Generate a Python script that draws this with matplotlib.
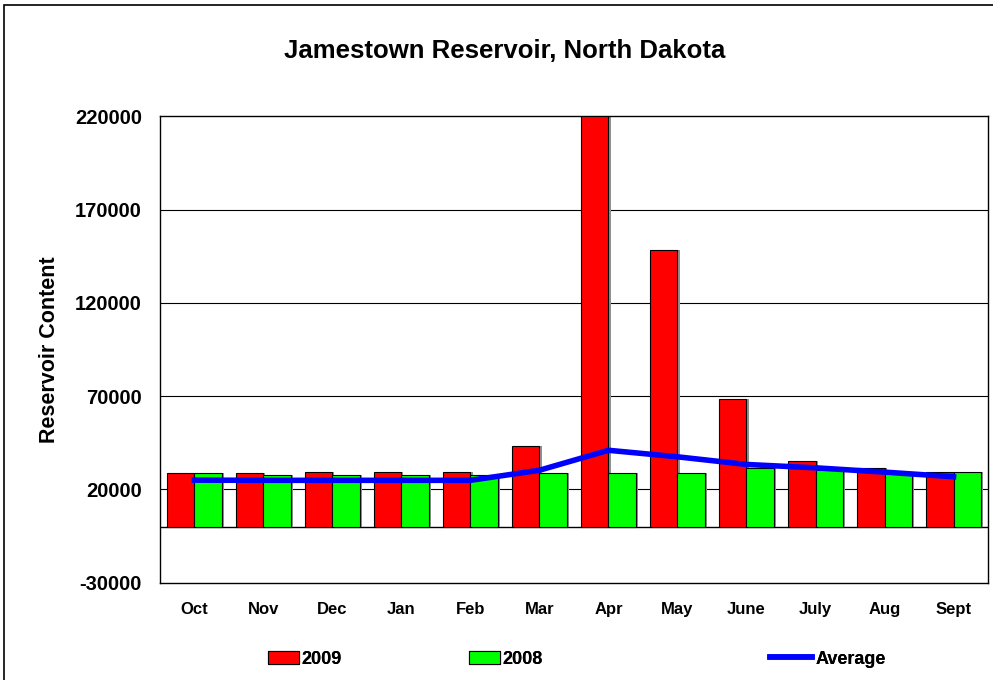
import numpy as np
import matplotlib
matplotlib.use("Agg")
from matplotlib import pyplot as plt
from matplotlib.patches import Rectangle

plt.rcParams['font.family'] = ['Liberation Sans', 'DejaVu Sans']
plt.rcParams['font.weight'] = 'bold'

months = ['Oct', 'Nov', 'Dec', 'Jan', 'Feb', 'Mar', 'Apr', 'May', 'June', 'July', 'Aug', 'Sept']
y2009 = [29000, 29000, 29300, 29300, 29600, 43200, 220000, 148600, 68600, 35200, 31600, 29500]
y2008 = [28700, 27700, 27900, 27900, 27900, 28900, 28900, 28950, 31600, 30300, 28600, 29200]
average = [25000, 24900, 24900, 24900, 24900, 30300, 41000, 37500, 33400, 31600, 29300, 26800]
yticks = [-30000, 20000, 70000, 120000, 170000, 220000]

fig = plt.figure(figsize=(9.93, 6.8), dpi=100)
ax = fig.add_axes([0.161, 0.143, 0.834, 0.686])

x = np.arange(len(months))
w = 0.4
# grey shadow behind each bar
ax.bar(x - w / 2 + 0.03, y2009, w, color='#909090', zorder=2)
ax.bar(x + w / 2 + 0.03, y2008, w, color='#909090', zorder=2)
b09 = ax.bar(x - w / 2, y2009, w, color='#ff0000', edgecolor='black', linewidth=0.8, zorder=3)
b08 = ax.bar(x + w / 2, y2008, w, color='#00ff00', edgecolor='black', linewidth=0.8, zorder=3)
avg, = ax.plot(x, average, color='#0000ff', linewidth=4, zorder=4)

ax.set_xlim(-0.5, len(months) - 0.5)
ax.set_ylim(-30000, 220000)
ax.set_yticks(yticks)
ax.set_yticklabels([str(t) for t in yticks], fontsize=14.5, fontweight='bold')
ax.set_xticks(x)
ax.set_xticklabels(months, fontsize=12, fontweight='bold')
ax.tick_params(axis='x', length=0, pad=14)
ax.tick_params(axis='y', length=0, pad=13)
for t in yticks[1:-1]:
    ax.axhline(t, color='black', linewidth=0.8, zorder=1)
ax.axhline(0, color='black', linewidth=1.0, zorder=1)
for s in ax.spines.values():
    s.set_linewidth(1.0)

ax.set_ylabel('Reservoir Content', fontsize=15.5, fontweight='bold')
ax.yaxis.set_label_coords(-0.12, 0.5)
fig.text(0.508, 0.925, 'Jamestown Reservoir, North Dakota', ha='center', va='center',
         fontsize=18.5, fontweight='bold')

# legend entries placed one by one, like the original
entries = [(b09, '2009', 268, 1.7), (b08, '2008', 469, 1.7), (avg, 'Average', 770, 2.35)]
for h, lab, px, hl in entries:
    lg = fig.legend([h], [lab], loc='center left',
                    bbox_to_anchor=(px / 993, 1 - 659 / 680), frameon=False,
                    prop={'weight': 'bold', 'size': 13}, handlelength=hl,
                    handletextpad=0.15, borderpad=0, borderaxespad=0)
    fig.add_artist(lg)

fig.patches.append(Rectangle((0.004, -0.01), 1.2, 1 - 0.008 + 0.01, transform=fig.transFigure,
                             fill=False, edgecolor='black', linewidth=1.2))

fig.savefig('out.png', dpi=100)
